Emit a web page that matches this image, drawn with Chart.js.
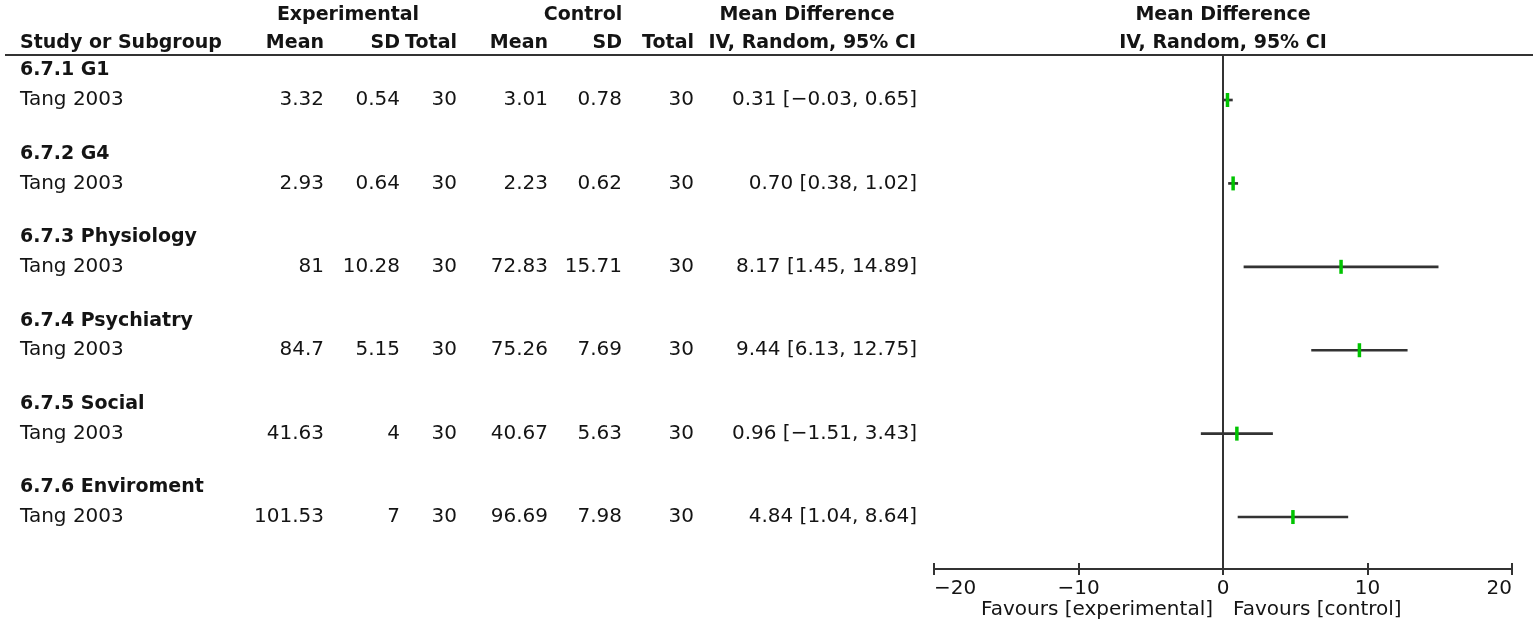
<!DOCTYPE html>
<html>
<head>
<meta charset="utf-8">
<script src="https://cdn.jsdelivr.net/npm/chart.js@4.4.1/dist/chart.umd.min.js"></script>
<style>
html,body{margin:0;padding:0;background:#fff;}
#wrap{position:relative;width:1535px;height:625px;}
</style>
</head>
<body>
<div id="wrap"><canvas id="c"></canvas></div>
<script>
// ---------- data ----------
const subgroups = ['6.7.1 G1', '6.7.2 G4', '6.7.3 Physiology', '6.7.4 Psychiatry', '6.7.5 Social', '6.7.6 Enviroment'];
const studies = ['Tang 2003', 'Tang 2003', 'Tang 2003', 'Tang 2003', 'Tang 2003', 'Tang 2003'];
const expMean = [3.32, 2.93, 81, 84.7, 41.63, 101.53];
const expSD = [0.54, 0.64, 10.28, 5.15, 4, 7];
const expTotal = [30, 30, 30, 30, 30, 30];
const ctrlMean = [3.01, 2.23, 72.83, 75.26, 40.67, 96.69];
const ctrlSD = [0.78, 0.62, 15.71, 7.69, 5.63, 7.98];
const ctrlTotal = [30, 30, 30, 30, 30, 30];
const meanDiff = [0.31, 0.70, 8.17, 9.44, 0.96, 4.84];
const ciLow = [-0.03, 0.38, 1.45, 6.13, -1.51, 1.04];
const ciHigh = [0.65, 1.02, 14.89, 12.75, 3.43, 8.64];
const xTicks = [-20, -10, 0, 10, 20];
const favoursLeft = 'Favours [experimental]';
const favoursRight = 'Favours [control]';

// ---------- helpers ----------
const minus = s => String(s).replace('-', '\u2212');
const fmt2 = v => minus(v.toFixed(2));
const ciText = meanDiff.map((m, i) => fmt2(m) + ' [' + fmt2(ciLow[i]) + ', ' + fmt2(ciHigh[i]) + ']');
const rows = studies.map((_, i) => i);
const headOffset = 0.355;

const FONT = '"DejaVu Sans", "Noto Sans", sans-serif';
const REG = '20px ' + FONT;
const BOLD = 'bold 19px ' + FONT;
const INK = '#141414';
const LINE = '#333333';

const tablePlugin = {
  id: 'forestTable',
  afterDraw(chart) {
    const ctx = chart.ctx;
    const ys = chart.scales.y, xs = chart.scales.x;
    const x0 = xs.getPixelForValue(0);
    const top = chart.chartArea.top;
    ctx.save();
    ctx.fillStyle = INK;
    ctx.textBaseline = 'middle';
    const t = (s, px, py, align, font) => { ctx.font = font; ctx.textAlign = align; ctx.fillText(String(s), px, py); };

    // column headers
    t('Experimental', 348, 15, 'center', BOLD);
    t('Control', 583, 15, 'center', BOLD);
    t('Mean Difference', 807, 15, 'center', BOLD);
    t('Mean Difference', x0, 15, 'center', BOLD);
    t('Study or Subgroup', 20, 43, 'left', BOLD);
    t('Mean', 324, 43, 'right', BOLD);
    t('SD', 400, 43, 'right', BOLD);
    t('Total', 457, 43, 'right', BOLD);
    t('Mean', 548, 43, 'right', BOLD);
    t('SD', 622, 43, 'right', BOLD);
    t('Total', 694, 43, 'right', BOLD);
    t('IV, Random, 95% CI', 916, 43, 'right', BOLD);
    t('IV, Random, 95% CI', x0, 43, 'center', BOLD);

    // header rule
    ctx.strokeStyle = LINE;
    ctx.lineWidth = 2;
    ctx.beginPath();
    ctx.moveTo(5, top - 1);
    ctx.lineTo(1533, top - 1);
    ctx.stroke();

    // rows
    rows.forEach(i => {
      const py = ys.getPixelForValue(i);
      const ph = ys.getPixelForValue(i - headOffset);
      t(subgroups[i], 20, ph, 'left', BOLD);
      t(studies[i], 20, py, 'left', REG);
      t(expMean[i], 324, py, 'right', REG);
      t(expSD[i], 400, py, 'right', REG);
      t(expTotal[i], 457, py, 'right', REG);
      t(ctrlMean[i], 548, py, 'right', REG);
      t(ctrlSD[i], 622, py, 'right', REG);
      t(ctrlTotal[i], 694, py, 'right', REG);
      t(ciText[i], 917, py, 'right', REG);
    });

    // upper halves of axis tick marks
    const ab = chart.chartArea.bottom;
    ctx.beginPath();
    xTicks.forEach(v => {
      const px = Math.round(xs.getPixelForValue(v));
      ctx.moveTo(px, ab - 6);
      ctx.lineTo(px, ab);
    });
    ctx.stroke();

    // favours labels
    t(favoursLeft, x0 - 10, 610, 'right', REG);
    t(favoursRight, x0 + 10, 610, 'left', REG);
    ctx.restore();
  }
};

new Chart(document.getElementById('c'), {
  type: 'scatter',
  data: {
    datasets: [
      {
        type: 'scatter',
        label: 'Mean difference',
        data: rows.map(i => ({ x: meanDiff[i], y: i })),
        pointStyle: 'line',
        rotation: 90,
        radius: 7,
        hoverRadius: 7,
        borderWidth: 3.5,
        borderColor: '#00c400',
        backgroundColor: '#00c400',
        order: 0
      },
      {
        type: 'bar',
        label: '95% CI',
        indexAxis: 'y',
        data: rows.map(i => ({ x: [ciLow[i], ciHigh[i]], y: i })),
        backgroundColor: LINE,
        borderWidth: 0,
        barThickness: 2,
        order: 1
      }
    ]
  },
  options: {
    responsive: true,
    maintainAspectRatio: false,
    animation: false,
    events: [],
    layout: { padding: { left: 934, right: 23, top: 56, bottom: 0 } },
    plugins: { legend: { display: false }, tooltip: { enabled: false }, title: { display: false } },
    scales: {
      x: {
        type: 'linear',
        position: 'bottom',
        min: -20,
        max: 20,
        offset: false,
        afterBuildTicks: s => { s.ticks = xTicks.map(v => ({ value: v })); },
        afterFit: s => { s.height = 56; },
        ticks: {
          align: 'inner',
          padding: 2,
          color: INK,
          font: { family: FONT, size: 20 },
          callback: v => minus(v)
        },
        grid: {
          offset: false,
          drawOnChartArea: true,
          color: c => (c.tick && c.tick.value === 0) ? LINE : 'rgba(0,0,0,0)',
          lineWidth: 2,
          tickLength: 6,
          tickColor: LINE,
          tickWidth: 2
        },
        border: { display: true, color: LINE, width: 2 }
      },
      y: {
        type: 'linear',
        display: false,
        reverse: true,
        offset: false,
        min: -0.5276,
        max: 5.623,
        grid: { offset: false }
      }
    }
  },
  plugins: [tablePlugin]
});
</script>
</body>
</html>
